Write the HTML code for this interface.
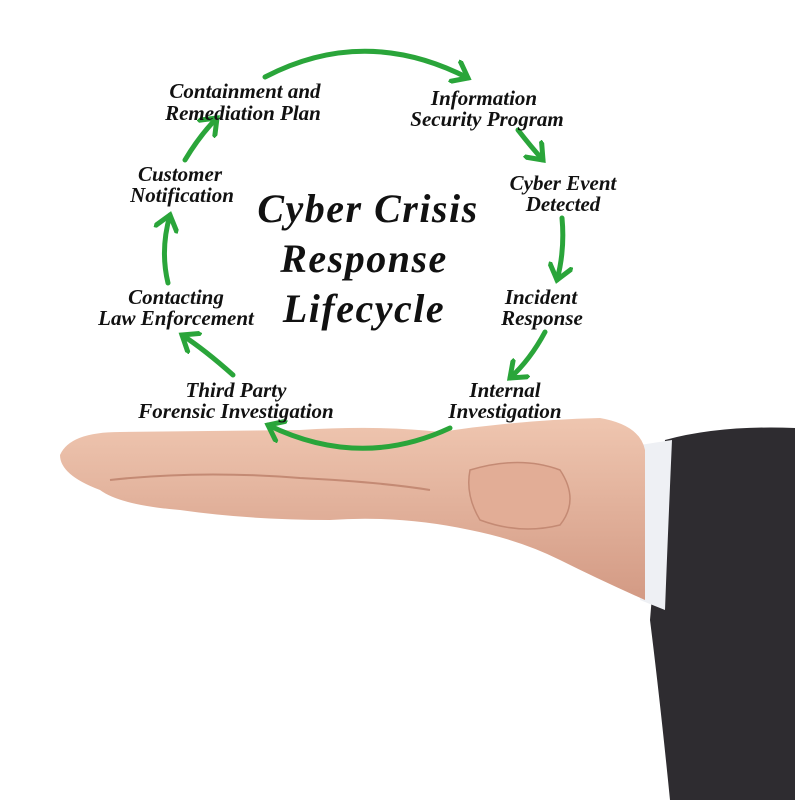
<!DOCTYPE html>
<html><head><style>
body{margin:0;background:#fff}
svg{display:block}
text{font-family:"Liberation Serif",serif;font-style:italic;font-weight:bold;fill:#111}
</style></head><body>
<svg width="795" height="800" viewBox="0 0 795 800">
<defs>
<marker id="a" markerWidth="5" markerHeight="5" refX="3.2" refY="2.5" orient="auto" markerUnits="strokeWidth"><path d="M0,0 L3.2,2.5 L0,5" fill="none" stroke="#2aa53a" stroke-width="1"/></marker>
<linearGradient id="sk" x1="0" y1="0" x2="0" y2="1"><stop offset="0" stop-color="#efc6b0"/><stop offset="1" stop-color="#d39a84"/></linearGradient>
</defs>
<path d="M665,440 Q720,425 795,428 L795,800 L670,800 Q660,700 650,620 Z" fill="#2e2c30"/>
<path d="M640,445 L672,440 Q668,530 665,610 L640,600 Z" fill="#eef0f4"/>
<path d="M60,455 Q70,432 120,432 L300,430 Q380,425 440,432 Q520,420 600,418 Q640,425 645,450 L645,600 Q600,580 560,560 Q520,540 470,530 Q400,515 330,520 Q250,520 180,510 Q120,505 100,490 Q60,475 60,455 Z" fill="url(#sk)"/>
<path d="M110,480 Q200,470 300,478 Q380,482 430,490" fill="none" stroke="#c48a74" stroke-width="2"/>
<path d="M470,470 Q520,455 560,470 Q580,500 560,525 Q520,535 480,520 Q465,495 470,470 Z" fill="#e2ad96" stroke="#c48a74" stroke-width="1.5"/>
<g fill="none" stroke="#2aa53a" stroke-width="5" stroke-linecap="round" marker-end="url(#a)">
<path d="M265,77 Q365,25 468,78"/>
<path d="M518,130 Q532,148 543,160"/>
<path d="M562,218 Q565,250 557,280"/>
<path d="M545,332 Q530,360 510,378"/>
<path d="M450,428 Q360,470 268,425"/>
<path d="M233,375 Q205,350 182,335"/>
<path d="M168,283 Q160,250 170,215"/>
<path d="M185,160 Q200,135 217,118"/>
</g>
<g font-size="21" text-anchor="middle">
<text x="245" y="98">Containment and</text><text x="243" y="120">Remediation Plan</text>
<text x="484" y="105">Information</text><text x="487" y="126">Security Program</text>
<text x="563" y="190">Cyber Event</text><text x="563" y="211">Detected</text>
<text x="541" y="304">Incident</text><text x="542" y="325">Response</text>
<text x="505" y="397">Internal</text><text x="505" y="418">Investigation</text>
<text x="236" y="397">Third Party</text><text x="236" y="418">Forensic Investigation</text>
<text x="176" y="304">Contacting</text><text x="176" y="325">Law Enforcement</text>
<text x="180" y="181">Customer</text><text x="182" y="202">Notification</text>
</g>
<g font-size="40" text-anchor="middle" letter-spacing="1.5">
<text x="368" y="222">Cyber Crisis</text>
<text x="364" y="272">Response</text>
<text x="364" y="322">Lifecycle</text>
</g>
</svg>
</body></html>
